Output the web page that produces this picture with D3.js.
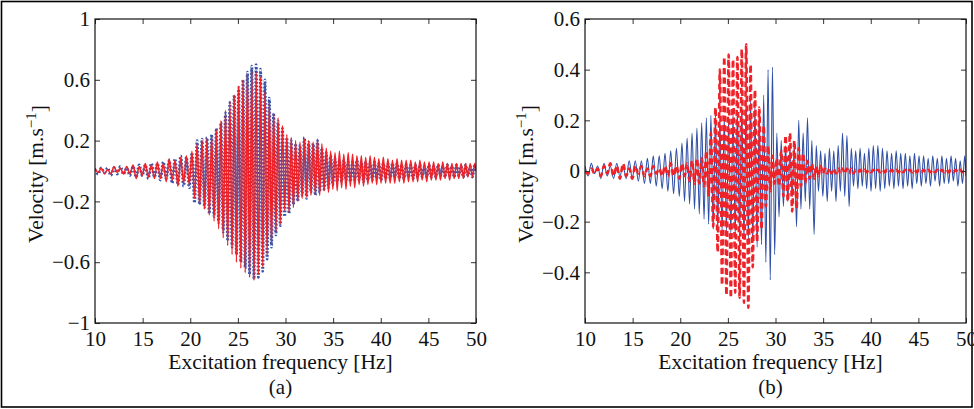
<!DOCTYPE html>
<html>
<head>
<meta charset="utf-8">
<script src="https://cdn.jsdelivr.net/npm/d3@7"></script>
<style>
  body { margin: 0; background: #fff; }
  svg text { font-family: "Liberation Serif", "Times New Roman", serif; fill: #111; }
</style>
</head>
<body>
<div id="chart"></div>
<script>
// frequencies [Hz] where the velocity signals reach their peaks / troughs
var extremaHz = [
  10.00,10.33,10.66,11.00,11.33,11.66,12.00,12.33,12.66,13.00,
  13.33,13.66,14.00,14.32,14.64,14.96,15.28,15.60,15.92,16.24,
  16.55,16.86,17.17,17.48,17.79,18.10,18.40,18.70,19.00,19.30,
  19.60,19.90,20.18,20.45,20.72,20.98,21.24,21.50,21.75,22.00,
  22.25,22.50,22.74,22.98,23.22,23.46,23.70,23.93,24.16,24.39,
  24.62,24.85,25.08,25.31,25.54,25.77,26.00,26.23,26.46,26.69,
  26.92,27.15,27.38,27.61,27.84,28.07,28.30,28.53,28.76,28.99,
  29.22,29.45,29.68,29.91,30.14,30.37,30.60,30.83,31.06,31.29,
  31.52,31.75,31.98,32.21,32.44,32.67,32.90,33.13,33.36,33.59,
  33.82,34.05,34.28,34.51,34.74,34.97,35.20,35.43,35.66,35.89,
  36.12,36.35,36.58,36.81,37.04,37.27,37.50,37.73,37.96,38.19,
  38.42,38.65,38.88,39.11,39.34,39.57,39.80,40.03,40.27,40.51,
  40.75,40.99,41.23,41.47,41.71,41.95,42.19,42.43,42.67,42.91,
  43.15,43.39,43.63,43.87,44.11,44.35,44.59,44.83,45.07,45.31,
  45.55,45.79,46.03,46.27,46.51,46.75,46.99,47.23,47.47,47.71,
  47.95,48.19,48.43,48.67,48.91,49.15,49.39,49.63,49.87,50.00
];

// panel (a): blue dotted
var velA_blue = [
  0.01,-0.02,0.02,-0.01,0.02,-0.03,0.02,-0.02,0.03,-0.02,
  0.02,-0.03,0.03,-0.04,0.04,-0.03,0.04,-0.05,0.05,-0.04,
  0.05,-0.06,0.06,-0.05,0.07,-0.08,0.08,-0.09,0.10,-0.10,
  0.09,-0.11,0.12,-0.21,0.20,-0.22,0.21,-0.24,0.22,-0.28,
  0.24,-0.30,0.28,-0.34,0.32,-0.40,0.38,-0.46,0.45,-0.50,
  0.50,-0.55,0.55,-0.60,0.60,-0.64,0.65,-0.68,0.69,-0.71,
  0.70,-0.70,0.67,-0.66,0.60,-0.58,0.48,-0.50,0.38,-0.42,
  0.33,-0.36,0.28,-0.30,0.22,-0.28,0.20,-0.22,0.18,-0.20,
  0.17,-0.16,0.22,-0.18,0.19,-0.14,0.18,-0.16,0.20,-0.14,
  0.15,-0.12,0.12,-0.11,0.10,-0.09,0.08,-0.07,0.07,-0.07,
  0.07,-0.06,0.06,-0.07,0.06,-0.06,0.07,-0.06,0.06,-0.07,
  0.06,-0.06,0.05,-0.06,0.06,-0.05,0.05,-0.06,0.05,-0.05,
  0.05,-0.05,0.05,-0.04,0.05,-0.05,0.04,-0.05,0.04,-0.04,
  0.04,-0.05,0.04,-0.04,0.04,-0.04,0.03,-0.04,0.04,-0.04,
  0.03,-0.04,0.04,-0.03,0.03,-0.04,0.04,-0.03,0.03,-0.04,
  0.04,-0.03,0.03,-0.04,0.04,-0.03,0.03,-0.04,0.04,0.00
];

// panel (a): red solid
var velA_red = [
  0.02,-0.01,0.02,-0.02,0.01,-0.02,0.03,-0.01,0.02,-0.02,
  0.03,-0.02,0.04,-0.05,0.03,-0.03,0.05,-0.04,0.04,-0.05,
  0.06,-0.05,0.05,-0.07,0.08,-0.06,0.07,-0.10,0.09,-0.08,
  0.10,-0.09,0.13,-0.18,0.18,-0.22,0.20,-0.25,0.21,-0.29,
  0.23,-0.33,0.27,-0.38,0.33,-0.44,0.40,-0.49,0.46,-0.55,
  0.50,-0.60,0.56,-0.64,0.60,-0.67,0.64,-0.70,0.66,-0.72,
  0.65,-0.68,0.62,-0.63,0.52,-0.55,0.45,-0.48,0.38,-0.40,
  0.35,-0.35,0.30,-0.26,0.24,-0.27,0.22,-0.24,0.20,-0.20,
  0.19,-0.18,0.21,-0.17,0.20,-0.16,0.19,-0.15,0.21,-0.16,
  0.18,-0.13,0.15,-0.14,0.13,-0.12,0.12,-0.13,0.13,-0.11,
  0.11,-0.12,0.12,-0.10,0.11,-0.11,0.10,-0.09,0.10,-0.10,
  0.09,-0.09,0.10,-0.08,0.09,-0.09,0.08,-0.08,0.09,-0.08,
  0.08,-0.08,0.07,-0.08,0.08,-0.07,0.07,-0.08,0.07,-0.07,
  0.07,-0.07,0.06,-0.07,0.07,-0.06,0.06,-0.07,0.06,-0.06,
  0.06,-0.06,0.05,-0.06,0.06,-0.05,0.05,-0.06,0.05,-0.05,
  0.05,-0.05,0.05,-0.05,0.05,-0.04,0.05,-0.04,0.05,0.00
];

// panel (b): blue solid
var velB_blue = [
  0.02,-0.02,0.03,-0.01,0.02,-0.03,0.03,-0.02,0.02,-0.03,
  0.03,-0.02,0.02,-0.03,0.04,-0.03,0.04,-0.04,0.04,-0.05,
  0.05,-0.05,0.06,-0.06,0.06,-0.07,0.07,-0.08,0.08,-0.09,
  0.09,-0.10,0.11,-0.12,0.13,-0.13,0.15,-0.15,0.17,-0.17,
  0.19,-0.19,0.21,-0.21,0.22,-0.23,0.22,-0.23,0.20,-0.24,
  0.21,-0.24,0.20,-0.25,0.22,-0.25,0.24,-0.26,0.25,-0.27,
  0.27,-0.27,0.28,-0.28,0.25,-0.30,0.22,-0.29,0.30,-0.36,
  0.40,-0.43,0.41,-0.33,0.15,-0.18,0.12,-0.14,0.10,-0.12,
  0.09,-0.10,0.10,-0.22,0.20,-0.15,0.15,-0.12,0.21,-0.15,
  0.12,-0.25,0.10,-0.08,0.08,-0.10,0.07,-0.12,0.09,-0.08,
  0.08,-0.12,0.10,-0.08,0.15,-0.10,0.14,-0.14,0.09,-0.06,
  0.08,-0.07,0.09,-0.06,0.07,-0.07,0.09,-0.08,0.10,-0.07,
  0.10,-0.08,0.09,-0.07,0.08,-0.06,0.07,-0.07,0.08,-0.06,
  0.07,-0.07,0.07,-0.06,0.06,-0.07,0.07,-0.05,0.06,-0.06,
  0.06,-0.05,0.05,-0.06,0.06,-0.04,0.05,-0.06,0.06,-0.05,
  0.05,-0.05,0.06,-0.04,0.05,-0.06,0.04,-0.05,0.06,-0.02
];

// panel (b): red dashed
var velB_red = [
  0.00,-0.01,0.01,-0.01,0.01,-0.02,0.02,-0.01,0.03,-0.02,
  0.02,-0.03,0.03,-0.02,0.01,-0.03,0.02,-0.01,0.02,-0.02,
  0.01,-0.02,0.02,-0.01,0.01,-0.02,0.02,-0.02,0.03,-0.02,
  0.02,-0.03,0.03,-0.02,0.03,-0.04,0.04,-0.05,0.05,-0.05,
  0.05,-0.06,0.08,-0.10,0.15,-0.22,0.25,-0.32,0.40,-0.45,
  0.45,-0.49,0.46,-0.50,0.44,-0.48,0.45,-0.50,0.48,-0.52,
  0.50,-0.54,0.42,-0.38,0.32,-0.28,0.25,-0.23,0.18,-0.14,
  0.10,-0.08,0.06,-0.05,0.05,-0.06,0.08,-0.10,0.14,-0.12,
  0.15,-0.16,0.12,-0.15,0.09,-0.06,0.07,-0.05,0.04,-0.03,
  0.03,-0.03,0.02,-0.02,0.02,-0.01,0.01,-0.01,0.01,-0.01,
  0.01,-0.01,0.01,-0.01,0.01,-0.01,0.01,-0.01,0.01,-0.01,
  0.005,-0.005,0.005,-0.005,0.005,-0.005,0.005,-0.005,0.005,-0.005,
  0.005,-0.005,0.005,-0.005,0.005,-0.005,0.005,-0.005,0.005,-0.005,
  0.005,-0.005,0.005,-0.005,0.005,-0.005,0.005,-0.005,0.005,-0.005,
  0.005,-0.005,0.005,-0.005,0.005,-0.005,0.005,-0.005,0.005,-0.005,
  0.005,-0.005,0.005,-0.005,0.005,-0.005,0.005,-0.005,0.005,0.00
];

var freqTicks = [10, 15, 20, 25, 30, 35, 40, 45, 50];
var velTicksA = [-1, -0.6, -0.2, 0.2, 0.6, 1];
var velTicksB = [-0.4, -0.2, 0, 0.2, 0.4, 0.6];

var width = 974, height = 409;
var plotW = 381, plotH = 304, plotTop = 19;

var svg = d3.select('#chart')
            .append('svg')
            .attr('width', width)
            .attr('height', height);

svg.append('rect').attr('width', width).attr('height', height).attr('fill', '#fff');

// outer frame round both panels
svg.append('rect')
   .attr('x', 1.5).attr('y', 1.5)
   .attr('width', 970.5).attr('height', 405.5)
   .attr('fill', 'none').attr('stroke', '#000').attr('stroke-width', 1.6);

var panels = [
  { left: 95, ydom: [-1, 1], yticks: velTicksA, label: '(a)', id: 'a',
    series: [
      { values: velA_blue, color: '#3652a8', width: 2.8, dash: '1.8,1.8' },
      { values: velA_red, color: '#ee2228', width: 1.5, dash: null }
    ] },
  { left: 585, ydom: [-0.6, 0.6], yticks: velTicksB, label: '(b)', id: 'b',
    series: [
      { values: velB_blue, color: '#2f4fa6', width: 1.1, dash: null },
      { values: velB_red, color: '#ee2228', width: 2.6, dash: '6,3.5' }
    ] }
];

panels.forEach(function(p) {
  var g = svg.append('g').attr('transform', 'translate(' + p.left + ',' + plotTop + ')');

  var x = d3.scaleLinear().domain([10, 50]).range([0, plotW]);
  var y = d3.scaleLinear().domain(p.ydom).range([plotH, 0]);

  g.append('clipPath').attr('id', 'clip-' + p.id)
   .append('rect').attr('width', plotW).attr('height', plotH);

  var line = d3.line()
      .x(function(d) { return x(d[0]); })
      .y(function(d) { return y(d[1]); })
      .curve(d3.curveMonotoneX);

  var lines = g.append('g').attr('clip-path', 'url(#clip-' + p.id + ')');
  p.series.forEach(function(s) {
    lines.append('path')
      .datum(d3.zip(extremaHz, s.values))
      .attr('d', line)
      .attr('fill', 'none')
      .attr('stroke', s.color)
      .attr('stroke-width', s.width)
      .attr('stroke-linejoin', 'round')
      .attr('stroke-dasharray', s.dash);
  });

  var fmt = d3.format('~g');

  // axes with inward ticks (MATLAB style)
  var xb = g.append('g').attr('transform', 'translate(0,' + plotH + ')')
    .call(d3.axisBottom(x).tickValues(freqTicks).tickSize(-5).tickPadding(8).tickFormat(fmt));
  var xt = g.append('g')
    .call(d3.axisTop(x).tickValues(freqTicks).tickSize(-5).tickFormat(''));
  var yl = g.append('g')
    .call(d3.axisLeft(y).tickValues(p.yticks).tickSize(-5).tickPadding(5).tickFormat(fmt));
  var yr = g.append('g').attr('transform', 'translate(' + plotW + ',0)')
    .call(d3.axisRight(y).tickValues(p.yticks).tickSize(-5).tickFormat(''));

  [xb, xt, yl, yr].forEach(function(a) {
    a.select('.domain').remove();
    a.selectAll('line').attr('stroke', '#333').attr('stroke-width', 1);
    a.selectAll('text').attr('font-size', 21).attr('fill', '#111')
      .attr('font-family', '"Liberation Serif", "Times New Roman", serif');
  });

  g.append('rect')
   .attr('width', plotW).attr('height', plotH)
   .attr('fill', 'none').attr('stroke', '#111').attr('stroke-width', 1.2);

  g.append('text')
   .attr('x', plotW / 2 - 5).attr('y', 350)
   .attr('text-anchor', 'middle').attr('font-size', 21.5)
   .text('Excitation frequency [Hz]');

  g.append('text')
   .attr('x', plotW / 2 - 5).attr('y', 375)
   .attr('text-anchor', 'middle').attr('font-size', 21)
   .text(p.label);

  var yl2 = g.append('text')
   .attr('transform', 'translate(' + (-52) + ',' + (plotH / 2 + 3) + ') rotate(-90)')
   .attr('text-anchor', 'middle').attr('font-size', 21.5);
  yl2.append('tspan').text('Velocity [m.s');
  yl2.append('tspan').attr('dy', '-0.5em').attr('font-size', 15).text('\u22121');
  yl2.append('tspan').attr('dy', '0.5em').text(']');
});
</script>
</body>
</html>
